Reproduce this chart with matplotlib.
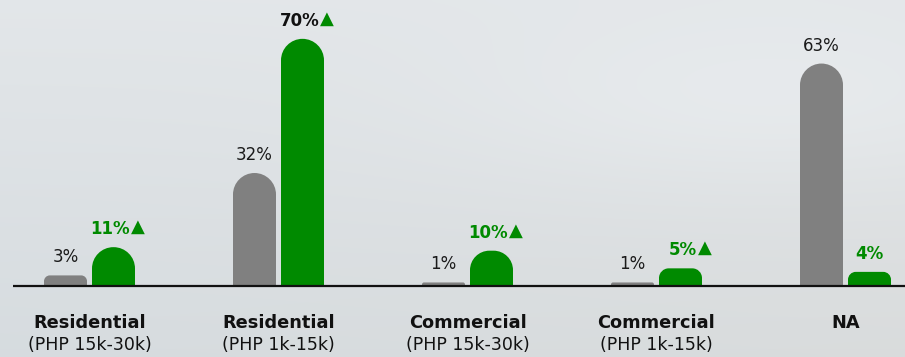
import numpy as np
import matplotlib.pyplot as plt
from matplotlib.path import Path
from matplotlib.patches import PathPatch

# Datos
categorias = ["Residential", "Residential", "Commercial", "Commercial", "NA"]
subtitulos = ["(PHP 15k-30k)", "(PHP 1k-15k)", "(PHP 15k-30k)", "(PHP 1k-15k)", ""]
valores_gris = [3, 32, 1, 1, 63]
valores_verde = [11, 70, 10, 5, 4]
flecha_verde = [True, True, True, True, False]

GRIS = "#808080"
VERDE = "#008a00"
FUENTE = ["DejaVu Sans"]

fig = plt.figure(figsize=(9.05, 3.57), dpi=100)

# Fondo degradado
bg = fig.add_axes([0, 0, 1, 1])
h, w = 120, 300
yy = np.linspace(0, 1, h)[:, None]
xx = np.linspace(0, 1, w)[None, :]
top = np.array([0.890, 0.904, 0.915])
bot = np.array([0.840, 0.862, 0.876])
img = top[None, None, :] * (1 - yy[..., None]) + bot[None, None, :] * yy[..., None]
blob = np.exp(-(((xx - 0.85) / 0.35) ** 2 + ((yy - 0.3) / 0.25) ** 2))
img = img + 0.025 * blob[..., None]
img = img + np.array([0.012, 0.0, -0.012])[None, None, :] * (xx * yy)[..., None]
bg.imshow(np.clip(img, 0, 1), aspect="auto", extent=[0, 1, 0, 1], interpolation="bicubic")
bg.axis("off")

ax = fig.add_axes([0, 71 / 357, 1, 286 / 357])
ax.patch.set_alpha(0)
paso = 189.0
ax.set_xlim(-89.5 / paso, (905 - 89.5) / paso)
ax.set_ylim(0, 81)
ax.axis("off")

px_x = paso          # pixeles por unidad x
px_y = 286 / 81.0    # pixeles por unidad y
ancho = 43 / px_x
desp = 24 / px_x


def barra_redondeada(xc, alto, color):
    x0, x1 = xc - ancho / 2, xc + ancho / 2
    r_px = min(21.5, alto * px_y * 0.55)
    rx, ry = r_px / px_x, r_px / px_y
    k = 0.5523
    verts = [
        (x0, 0), (x0, alto - ry),
        (x0, alto - ry + k * ry), (x0 + rx - k * rx, alto), (x0 + rx, alto),
        (x1 - rx, alto),
        (x1 - rx + k * rx, alto), (x1, alto - ry + k * ry), (x1, alto - ry),
        (x1, 0), (x0, 0),
    ]
    codes = [Path.MOVETO, Path.LINETO,
             Path.CURVE4, Path.CURVE4, Path.CURVE4,
             Path.LINETO,
             Path.CURVE4, Path.CURVE4, Path.CURVE4,
             Path.LINETO, Path.CLOSEPOLY]
    ax.add_patch(PathPatch(Path(verts, codes), facecolor=color, edgecolor="none"))


x = np.arange(len(categorias))
for i in x:
    g, v = valores_gris[i], valores_verde[i]
    barra_redondeada(i - desp, g, GRIS)
    barra_redondeada(i + desp, v, VERDE)

    ax.annotate(f"{g}%", (i - desp, g), xytext=(0, 6.5), textcoords="offset points",
                ha="center", va="bottom", fontsize=12, color="#1a1a1a", family=FUENTE)

    if flecha_verde[i]:
        color_num = "#111111" if v == max(valores_verde) else VERDE
        ax.annotate(f"{v}%", (i + desp, v), xytext=(12, 6.5), textcoords="offset points",
                    ha="right", va="bottom", fontsize=12, fontweight="bold",
                    color=color_num, family=FUENTE)
        ax.annotate("\u25B2", (i + desp, v), xytext=(12.5, 8), textcoords="offset points",
                    ha="left", va="bottom", fontsize=13, color=VERDE, family=FUENTE)
    else:
        ax.annotate(f"{v}%", (i + desp, v), xytext=(0, 6.5), textcoords="offset points",
                    ha="center", va="bottom", fontsize=12, fontweight="bold",
                    color=VERDE, family=FUENTE)

    ax.annotate(categorias[i], (i, 0), xytext=(0, -26.5), textcoords="offset points",
                ha="center", va="center", fontsize=12.8, fontweight="bold",
                color="#111111", family=FUENTE)
    if subtitulos[i]:
        ax.annotate(subtitulos[i], (i, 0), xytext=(0, -42.5), textcoords="offset points",
                    ha="center", va="center", fontsize=12.5, color="#111111", family=FUENTE)

# Linea base
ax.plot([(13 - 89.5) / paso, (905 - 89.5) / paso], [0, 0], color="#111111", lw=1.6,
        solid_capstyle="butt", clip_on=False)

fig.savefig("out.png", dpi=100)
